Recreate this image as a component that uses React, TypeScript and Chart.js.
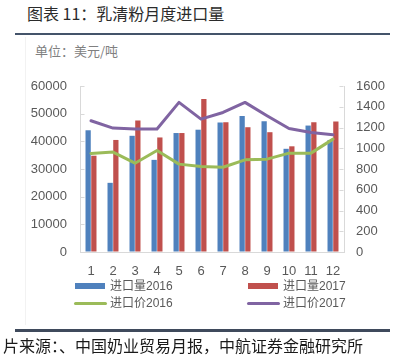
import React, { useEffect, useRef } from "react";
import { Chart, registerables } from "chart.js";

Chart.register(...registerables);

const months = ["1", "2", "3", "4", "5", "6", "7", "8", "9", "10", "11", "12"];
const volume2016 = [44000, 25000, 42000, 33300, 43000, 44200, 46800, 49200, 47300, 37300, 45700, 40500];
const volume2017 = [34800, 40500, 47500, 41400, 43000, 55300, 46900, 45100, 43300, 38200, 46900, 47200];
const price2016 = [950, 963, 856, 978, 847, 824, 817, 888, 895, 953, 953, 1088];
const price2017 = [1265, 1194, 1185, 1185, 1442, 1281, 1345, 1442, 1313, 1190, 1152, 1130];

const leftMax = 60000;
const leftStep = 10000;
const rightMax = 1600;
const rightStep = 200;

const BLUE = "#4F81BD";
const RED = "#C0504D";
const GREEN = "#9BBB59";
const PURPLE = "#8064A2";
const AXIS = "#D9D9D9";
const TEXT = "#595959";

const legendItems = [
  { label: "进口量2016", color: BLUE, kind: "bar" },
  { label: "进口量2017", color: RED, kind: "bar" },
  { label: "进口价2016", color: GREEN, kind: "line" },
  { label: "进口价2017", color: PURPLE, kind: "line" },
];

const innerTicks = {
  id: "innerTicks",
  afterDraw(chart: any) {
    const ctx = chart.ctx;
    ctx.save();
    ctx.strokeStyle = AXIS;
    ctx.lineWidth = 1;
    const y = chart.scales.y;
    const y1 = chart.scales.y1;
    y.ticks.forEach((t: any) => {
      const py = Math.round(y.getPixelForValue(t.value)) + 0.5;
      const x = Math.round(y.right) + 0.5;
      ctx.beginPath();
      ctx.moveTo(x, py);
      ctx.lineTo(x + 4, py);
      ctx.stroke();
    });
    y1.ticks.forEach((t: any) => {
      const py = Math.round(y1.getPixelForValue(t.value)) + 0.5;
      const x = Math.round(y1.left) - 0.5;
      ctx.beginPath();
      ctx.moveTo(x, py);
      ctx.lineTo(x - 4, py);
      ctx.stroke();
    });
    ctx.restore();
  },
};

const plain = (v: any) => String(v);

export default function App() {
  const ref = useRef<HTMLCanvasElement | null>(null);

  useEffect(() => {
    if (!ref.current) return;
    const chart = new Chart(ref.current, {
      type: "bar",
      data: {
        labels: months,
        datasets: [
          {
            type: "line",
            label: "进口价2016",
            data: price2016,
            yAxisID: "y1",
            borderColor: GREEN,
            backgroundColor: GREEN,
            borderWidth: 3,
            pointRadius: 0,
            tension: 0,
            borderJoinStyle: "round",
            borderCapStyle: "round",
            order: 0,
          } as any,
          {
            type: "line",
            label: "进口价2017",
            data: price2017,
            yAxisID: "y1",
            borderColor: PURPLE,
            backgroundColor: PURPLE,
            borderWidth: 3,
            pointRadius: 0,
            tension: 0,
            borderJoinStyle: "round",
            borderCapStyle: "round",
            order: 0,
          } as any,
          {
            type: "bar",
            label: "进口量2016",
            data: volume2016,
            yAxisID: "y",
            backgroundColor: BLUE,
            categoryPercentage: 0.52,
            barPercentage: 0.92,
            order: 1,
          } as any,
          {
            type: "bar",
            label: "进口量2017",
            data: volume2017,
            yAxisID: "y",
            backgroundColor: RED,
            categoryPercentage: 0.52,
            barPercentage: 0.92,
            order: 1,
          } as any,
        ],
      },
      options: {
        responsive: false,
        animation: false,
        devicePixelRatio: 1,
        layout: { padding: { top: 26, left: 0, right: 0, bottom: 0 } },
        plugins: { legend: { display: false }, tooltip: { enabled: false } },
        scales: {
          x: {
            grid: { display: false, drawTicks: false },
            border: { display: true, color: AXIS, width: 1 },
            ticks: {
              color: TEXT,
              font: { family: "'Liberation Sans', Arial, sans-serif", size: 13 },
              padding: 12,
              maxRotation: 0,
              autoSkip: false,
            },
            afterFit: (s: any) => {
              s.height = 28;
            },
          },
          y: {
            position: "left",
            min: 0,
            max: leftMax,
            grid: { drawOnChartArea: false, drawTicks: false },
            border: { display: true, color: AXIS, width: 1 },
            ticks: {
              stepSize: leftStep,
              color: TEXT,
              font: { family: "'Liberation Sans', Arial, sans-serif", size: 13 },
              padding: 13,
              callback: plain,
            },
            afterFit: (s: any) => {
              s.width = 80;
            },
          },
          y1: {
            position: "right",
            min: 0,
            max: rightMax,
            grid: { drawOnChartArea: false, drawTicks: false },
            border: { display: true, color: AXIS, width: 1 },
            ticks: {
              stepSize: rightStep,
              color: TEXT,
              font: { family: "'Liberation Sans', Arial, sans-serif", size: 13 },
              padding: 12,
              callback: plain,
            },
            afterFit: (s: any) => {
              s.width = 49;
            },
          },
        },
      },
      plugins: [innerTicks],
    } as any);
    return () => chart.destroy();
  }, []);

  const cjk = "'Noto Sans CJK SC', sans-serif";
  const mixed = "'Liberation Sans', 'Noto Sans CJK SC', sans-serif";

  return (
    <div
      style={{
        position: "fixed",
        left: 0,
        top: 0,
        width: 393,
        height: 364,
        background: "#fff",
        overflow: "hidden",
      }}
    >
      <div
        style={{
          position: "absolute",
          left: 27,
          top: 2,
          fontFamily: cjk,
          fontSize: 16,
          lineHeight: "22px",
          color: "#2b2b2b",
          whiteSpace: "nowrap",
        }}
      >
        图表 11：乳清粉月度进口量
      </div>
      <div style={{ position: "absolute", left: 15, top: 33, width: 375, height: 2, background: "#44546A" }} />
      <div
        style={{
          position: "absolute",
          left: 25,
          top: 37,
          width: 1,
          height: 288,
          background: "#F2F2F2",
        }}
      />
      <div
        style={{
          position: "absolute",
          left: 35,
          top: 41,
          fontFamily: cjk,
          fontSize: 13,
          lineHeight: "20px",
          color: "#808080",
          whiteSpace: "nowrap",
        }}
      >
        单位：美元/吨
      </div>
      <canvas
        ref={ref}
        width={393}
        height={220}
        style={{ position: "absolute", left: 0, top: 60, width: 393, height: 220 }}
      />
      {legendItems.map((it, i) => {
        const col = i % 2;
        const row = Math.floor(i / 2);
        const x = col === 0 ? 74 : 247;
        const cy = row === 0 ? 286 : 303;
        return (
          <div key={it.label}>
            {it.kind === "bar" ? (
              <div
                style={{
                  position: "absolute",
                  left: x + 1,
                  top: cy - 3,
                  width: 30,
                  height: 6,
                  background: it.color,
                }}
              />
            ) : (
              <div
                style={{
                  position: "absolute",
                  left: x,
                  top: cy - 1.5,
                  width: 33,
                  height: 3,
                  borderRadius: 2,
                  background: it.color,
                }}
              />
            )}
            <div
              style={{
                position: "absolute",
                left: x + 36,
                top: cy - 9,
                fontFamily: mixed,
                fontSize: 12,
                lineHeight: "18px",
                color: TEXT,
                whiteSpace: "nowrap",
              }}
            >
              {it.label}
            </div>
          </div>
        );
      })}
      <div style={{ position: "absolute", left: 15, top: 329, width: 375, height: 2.5, background: "#3F4A5C" }} />
      <div
        style={{
          position: "absolute",
          left: 3,
          top: 334,
          fontFamily: cjk,
          fontSize: 16,
          lineHeight: "22px",
          color: "#1a1a1a",
          whiteSpace: "nowrap",
        }}
      >
        片来源：、中国奶业贸易月报，中航证券金融研究所
      </div>
    </div>
  );
}
